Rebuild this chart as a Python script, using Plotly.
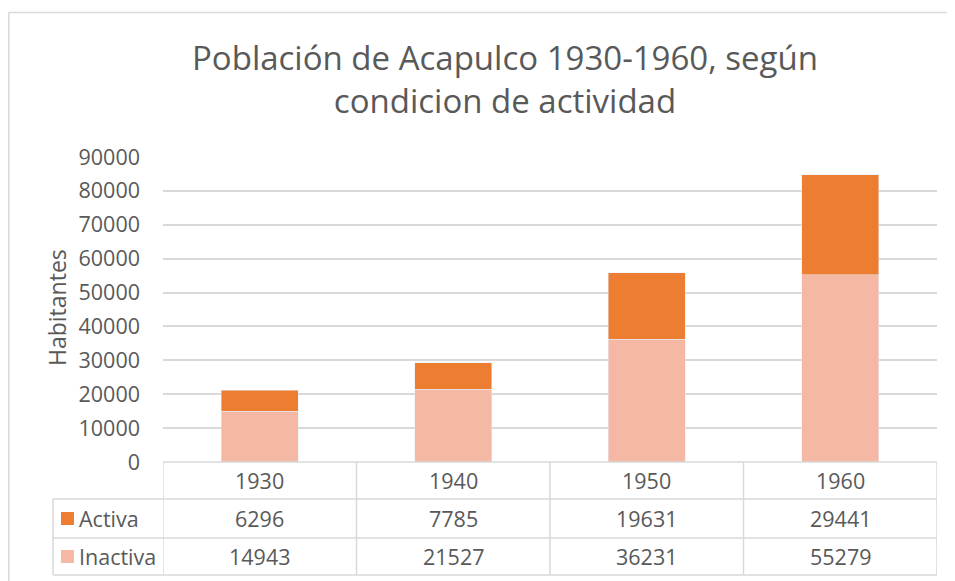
import plotly.graph_objects as go

# Datos
years = ["1930", "1940", "1950", "1960"]
activa = [6296, 7785, 19631, 29441]
inactiva = [14943, 21527, 36231, 55279]
series_names = ["Activa", "Inactiva"]
series_colors = ["#ED7D31", "#F4B8A4"]

# page body adds an 8px offset, so the figure is a bit smaller than the window
OFF = 8
W, H = 955 - OFF, 581 - OFF
L, R, T, B = 163, 937, 157, 462   # plot area in window pixels
FONT = "Open Sans"
GREY = "#595959"
LINE = "#D9D9D9"
TXT = 21.5


def px_x(x):
    return (x - L) / (R - L)


def px_y(y):
    return (B - y) / (B - T)


fig = go.Figure()
# Inactiva goes first so it sits at the bottom of the stack
fig.add_trace(go.Bar(x=years, y=inactiva, name="Inactiva", marker_color=series_colors[1]))
fig.add_trace(go.Bar(x=years, y=activa, name="Activa", marker_color=series_colors[0]))

shapes = []
annotations = []

# chart border (left and top only visible)
shapes.append(dict(type="line", xref="paper", yref="paper",
                   x0=px_x(8.5), x1=px_x(970), y0=px_y(12.5), y1=px_y(12.5),
                   line=dict(color=LINE, width=1.5)))
shapes.append(dict(type="line", xref="paper", yref="paper",
                   x0=px_x(8.8), x1=px_x(8.8), y0=px_y(12.5), y1=px_y(600),
                   line=dict(color=LINE, width=1.5)))

# data table under the axis
for y in [499, 538, 575]:
    shapes.append(dict(type="line", xref="paper", yref="paper",
                       x0=px_x(53), x1=1, y0=px_y(y), y1=px_y(y),
                       line=dict(color=LINE, width=1.5)))
shapes.append(dict(type="line", xref="paper", yref="paper",
                   x0=0, x1=1, y0=0, y1=0,
                   line=dict(color=LINE, width=1.5)))
shapes.append(dict(type="line", xref="paper", yref="paper",
                   x0=px_x(53), x1=px_x(53), y0=px_y(499), y1=px_y(575),
                   line=dict(color=LINE, width=1.5)))
for i in range(len(years) + 1):
    shapes.append(dict(type="line", xref="x", yref="paper",
                       x0=i - 0.5, x1=i - 0.5, y0=0, y1=px_y(575),
                       line=dict(color=LINE, width=1.5)))

row_centers = [480.5, 518.5, 556.5]
for i, yr in enumerate(years):
    for text, yc in zip([yr, str(activa[i]), str(inactiva[i])], row_centers):
        annotations.append(dict(x=i, xref="x", y=px_y(yc), yref="paper",
                                text=text, showarrow=False, yanchor="middle",
                                font=dict(size=TXT)))

for name, color, yc in zip(series_names, series_colors, row_centers[1:]):
    shapes.append(dict(type="rect", xref="paper", yref="paper",
                       x0=px_x(61), x1=px_x(74), y0=px_y(yc - 6.5), y1=px_y(yc + 6.5),
                       fillcolor=color, line=dict(width=0)))
    annotations.append(dict(x=px_x(77), xref="paper", y=px_y(yc), yref="paper",
                            text=name, showarrow=False, xanchor="left", yanchor="middle",
                            font=dict(size=TXT)))

# y axis title
annotations.append(dict(x=px_x(57), xref="paper", y=px_y(308), yref="paper",
                        text="Habitantes", textangle=-90, showarrow=False,
                        xanchor="center", yanchor="middle", font=dict(size=23)))

fig.update_layout(
    width=W, height=H,
    margin=dict(l=L - OFF, r=955 - R, t=T - OFF, b=581 - B),
    paper_bgcolor="white", plot_bgcolor="white",
    barmode="stack", bargap=0.6,
    showlegend=False,
    font=dict(family=FONT, size=TXT, color=GREY),
    title=dict(text="Población de Acapulco 1930-1960, según<br>condicion de actividad",
               x=px_x(505), xref="paper", xanchor="center",
               y=1 - (70 - OFF) / H, yref="container", yanchor="middle",
               font=dict(family=FONT, size=33, color=GREY)),
    xaxis=dict(type="category", showticklabels=False, showgrid=False, zeroline=False,
               showline=False, ticks="", range=[-0.5, 3.5]),
    yaxis=dict(range=[0, 90000], dtick=10000, showgrid=True, gridcolor=LINE,
               gridwidth=1.5, zeroline=False, showline=False, ticks="",
               tickformat="d", ticklabelstandoff=22,
               tickfont=dict(family=FONT, size=TXT, color=GREY)),
    shapes=shapes,
    annotations=annotations,
)

fig.write_html("out.html")
